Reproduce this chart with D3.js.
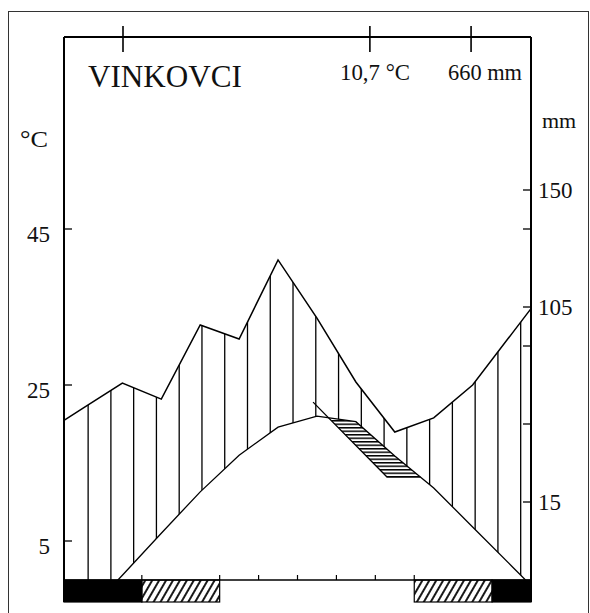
<!DOCTYPE html>
<html>
<head>
<meta charset="utf-8">
<script src="https://cdn.jsdelivr.net/npm/d3@7"></script>
<style>
  body { margin: 0; background: #fff; }
  svg text { font-family: "Liberation Serif", "Times New Roman", serif; fill: #111; }
</style>
</head>
<body>
<div id="chart"></div>
<script>
// monthly data
let months = ["I", "II", "III", "IV", "V", "VI", "VII", "VIII", "IX", "X", "XI", "XII"];
let temperature = [-4.6, 0.6, 6.0, 11.3, 16.0, 19.6, 21.0, 20.3, 15.9, 11.8, 6.8, 1.8];
let precipitation = [58.4, 69.9, 62.5, 96.7, 90.2, 123.1, 99.9, 70.4, 47.3, 53.8, 69.0, 92.5];

// secondary (dry) line, month position / degC
let dryMonths = [6.40, 8.30, 9.16];
let dryValues = [22.8, 13.2, 13.2];

// axis ticks
let tempTicks = [5, 25, 45];
let mmTicks = [15, 51, 87, 105, 135, 150];
let mmLabels = [15, 105, 150];
let monthTicks = [2, 4, 5, 6, 7, 8, 9];

// frost bars below the axis
let frostBars = [
  { from: 0, to: 2, kind: "solid" },
  { from: 2, to: 4, kind: "hatch" },
  { from: 9, to: 11, kind: "hatch" },
  { from: 11, to: 12, kind: "solid" }
];

let station = "VINKOVCI";
let meanTemp = "10,7 °C";
let annualRain = "660 mm";

let svg = null, x = null, yT = null, yP = null;
let frame = { left: 64, right: 531, top: 37, bottom: 580, barBottom: 602 };

setupSvg();
setupScales();
addPatterns();
drawFrame();
drawBars();
drawHumidHatch();
drawDryBand();
drawCurves();
drawTicks();
drawLabels();

function setupSvg() {
  svg = d3.select("#chart")
    .append("svg")
    .attr("width", 590)
    .attr("height", 613);

  svg.append("rect")
    .attr("x", 8.5).attr("y", 11.5)
    .attr("width", 580).attr("height", 640)
    .attr("fill", "none")
    .attr("stroke", "#333")
    .attr("stroke-width", 1);
}

function setupScales() {
  x = d3.scaleLinear().domain([0, 12]).range([frame.left, frame.right]);
  yT = d3.scaleLinear().domain([0, 45]).range([frame.bottom, 229]);
  // mm axis is drawn against the degree axis, compressed above 105
  yP = d3.scaleLinear().domain([15, 105, 150]).range([yT(10), yT(35), yT(50)]);
}

function addPatterns() {
  var defs = svg.append("defs");

  var diag = defs.append("pattern")
    .attr("id", "diag")
    .attr("patternUnits", "userSpaceOnUse")
    .attr("width", 6).attr("height", 6)
    .attr("patternTransform", "rotate(30)");
  diag.append("line")
    .attr("x1", 2).attr("y1", 0).attr("x2", 2).attr("y2", 6)
    .attr("stroke", "#000").attr("stroke-width", 1.8);

  var horiz = defs.append("pattern")
    .attr("id", "horiz")
    .attr("patternUnits", "userSpaceOnUse")
    .attr("width", 10).attr("height", 3.5);
  horiz.append("rect")
    .attr("x", 0).attr("y", 0).attr("width", 10).attr("height", 1.5)
    .attr("fill", "#000");

  defs.append("clipPath").attr("id", "plotClip")
    .append("rect")
    .attr("x", frame.left).attr("y", frame.top)
    .attr("width", frame.right - frame.left)
    .attr("height", frame.bottom - frame.top);
}

// monthly values sit at month centres, lines run out to the frame edges
function extend(values) {
  var n = values.length;
  var pts = values.map(function (v, i) { return [i + 0.5, v]; });
  pts.unshift([0, values[0] - (values[1] - values[0]) / 2]);
  pts.push([12, values[n - 1] + (values[n - 1] - values[n - 2]) / 2]);
  return pts;
}

function drawFrame() {
  svg.append("line")
    .attr("x1", frame.left).attr("x2", frame.right)
    .attr("y1", frame.top).attr("y2", frame.top)
    .attr("stroke", "#000").attr("stroke-width", 2);
  svg.append("line")
    .attr("x1", frame.left).attr("x2", frame.left)
    .attr("y1", frame.top).attr("y2", frame.barBottom)
    .attr("stroke", "#000").attr("stroke-width", 2);
  svg.append("line")
    .attr("x1", frame.right).attr("x2", frame.right)
    .attr("y1", frame.top).attr("y2", frame.barBottom)
    .attr("stroke", "#000").attr("stroke-width", 2);
  svg.append("line")
    .attr("x1", frame.left).attr("x2", frame.right)
    .attr("y1", frame.bottom).attr("y2", frame.bottom)
    .attr("stroke", "#000").attr("stroke-width", 1.5);
}

function drawBars() {
  svg.selectAll("rect.frost")
    .data(frostBars)
    .enter().append("rect")
    .attr("class", "frost")
    .attr("x", function (d) { return x(d.from); })
    .attr("y", frame.bottom)
    .attr("width", function (d) { return x(d.to) - x(d.from); })
    .attr("height", frame.barBottom - frame.bottom)
    .attr("fill", function (d) { return d.kind === "solid" ? "#000" : "url(#diag)"; })
    .attr("stroke", "#000")
    .attr("stroke-width", 1.2);
}

function drawHumidHatch() {
  var pPts = extend(precipitation);
  var tPts = extend(temperature);

  var humid = d3.area()
    .x(function (d, i) { return x(d[0]); })
    .y0(function (d, i) { return yT(tPts[i][1]); })
    .y1(function (d) { return yP(d[1]); });

  svg.select("defs").append("clipPath").attr("id", "humidClip")
    .append("path")
    .attr("d", humid(pPts));

  var step = 0.585;
  var positions = d3.range(0.62, 12, step);

  svg.append("g")
    .attr("clip-path", "url(#plotClip)")
    .append("g")
    .attr("clip-path", "url(#humidClip)")
    .selectAll("line")
    .data(positions)
    .enter().append("line")
    .attr("x1", function (d) { return x(d); })
    .attr("x2", function (d) { return x(d); })
    .attr("y1", frame.top)
    .attr("y2", frame.bottom)
    .attr("stroke", "#000")
    .attr("stroke-width", 1.3);
}

function drawDryBand() {
  var tPts = extend(temperature);
  var defs = svg.select("defs");

  var below = d3.area()
    .x(function (d) { return x(d[0]); })
    .y0(function (d) { return yT(d[1]); })
    .y1(frame.bottom + 40);
  defs.append("clipPath").attr("id", "belowTemp")
    .append("path").attr("d", below(tPts));

  var dryPts = dryMonths.map(function (m, i) { return [m, dryValues[i]]; });
  var above = d3.area()
    .x(function (d) { return x(d[0]); })
    .y0(frame.top)
    .y1(function (d) { return yT(d[1]); });
  defs.append("clipPath").attr("id", "aboveDry")
    .append("path").attr("d", above(dryPts));

  svg.append("g")
    .attr("clip-path", "url(#belowTemp)")
    .append("g")
    .attr("clip-path", "url(#aboveDry)")
    .append("rect")
    .attr("x", frame.left).attr("y", frame.top)
    .attr("width", frame.right - frame.left)
    .attr("height", frame.bottom - frame.top)
    .attr("fill", "url(#horiz)");

  svg.append("path")
    .datum(dryPts)
    .attr("d", d3.line()
      .x(function (d) { return x(d[0]); })
      .y(function (d) { return yT(d[1]); }))
    .attr("fill", "none")
    .attr("stroke", "#000")
    .attr("stroke-width", 1.3);
}

function drawCurves() {
  var g = svg.append("g").attr("clip-path", "url(#plotClip)");

  g.append("path")
    .datum(extend(temperature))
    .attr("d", d3.line()
      .x(function (d) { return x(d[0]); })
      .y(function (d) { return yT(d[1]); }))
    .attr("fill", "none")
    .attr("stroke", "#000")
    .attr("stroke-width", 1.3);

  g.append("path")
    .datum(extend(precipitation))
    .attr("d", d3.line()
      .x(function (d) { return x(d[0]); })
      .y(function (d) { return yP(d[1]); }))
    .attr("fill", "none")
    .attr("stroke", "#000")
    .attr("stroke-width", 1.5);
}

function drawTicks() {
  svg.selectAll("line.tTick")
    .data(tempTicks)
    .enter().append("line")
    .attr("class", "tTick")
    .attr("x1", frame.left).attr("x2", frame.left + 8)
    .attr("y1", function (d) { return yT(d); })
    .attr("y2", function (d) { return yT(d); })
    .attr("stroke", "#000").attr("stroke-width", 1.3);

  svg.selectAll("text.tLabel")
    .data(tempTicks)
    .enter().append("text")
    .attr("class", "tLabel")
    .attr("x", 50)
    .attr("y", function (d) { return yT(d) + 13; })
    .attr("text-anchor", "end")
    .attr("font-size", 23)
    .text(function (d) { return d; });

  svg.selectAll("line.pTick")
    .data(mmTicks)
    .enter().append("line")
    .attr("class", "pTick")
    .attr("x1", frame.right - 8).attr("x2", frame.right)
    .attr("y1", function (d) { return yP(d); })
    .attr("y2", function (d) { return yP(d); })
    .attr("stroke", "#000").attr("stroke-width", 1.3);

  svg.selectAll("text.pLabel")
    .data(mmLabels)
    .enter().append("text")
    .attr("class", "pLabel")
    .attr("x", 538)
    .attr("y", function (d) { return yP(d) + 8; })
    .attr("font-size", 23)
    .text(function (d) { return d; });

  svg.selectAll("line.mTick")
    .data(monthTicks)
    .enter().append("line")
    .attr("class", "mTick")
    .attr("x1", function (d) { return x(d); })
    .attr("x2", function (d) { return x(d); })
    .attr("y1", frame.bottom - 5).attr("y2", frame.bottom)
    .attr("stroke", "#000").attr("stroke-width", 1.2);
}

function drawLabels() {
  // header marks over the top edge
  var marks = [1.516, 7.86, 10.46];
  svg.selectAll("line.head")
    .data(marks)
    .enter().append("line")
    .attr("class", "head")
    .attr("x1", function (d) { return x(d); })
    .attr("x2", function (d) { return x(d); })
    .attr("y1", 26).attr("y2", 52)
    .attr("stroke", "#000").attr("stroke-width", 1.6);

  svg.append("text")
    .attr("x", 88).attr("y", 87)
    .attr("font-size", 31)
    .attr("textLength", 154)
    .attr("lengthAdjust", "spacingAndGlyphs")
    .text(station);

  svg.append("text")
    .attr("x", 340).attr("y", 80)
    .attr("font-size", 23)
    .attr("textLength", 70)
    .attr("lengthAdjust", "spacingAndGlyphs")
    .text(meanTemp);

  svg.append("text")
    .attr("x", 448).attr("y", 80)
    .attr("font-size", 23)
    .attr("textLength", 74)
    .attr("lengthAdjust", "spacingAndGlyphs")
    .text(annualRain);

  svg.append("text")
    .attr("x", 20).attr("y", 147)
    .attr("font-size", 23)
    .attr("textLength", 28)
    .attr("lengthAdjust", "spacingAndGlyphs")
    .text("°C");

  svg.append("text")
    .attr("x", 542).attr("y", 128)
    .attr("font-size", 22)
    .text("mm");
}
</script>
</body>
</html>
